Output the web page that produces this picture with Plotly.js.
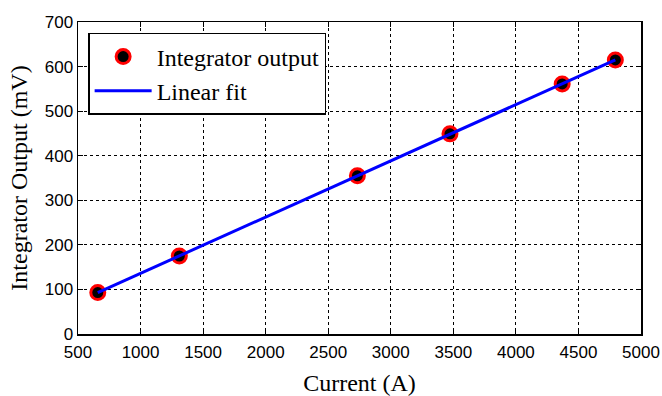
<!DOCTYPE html>
<html><head><meta charset="utf-8">
<script src="https://cdn.plot.ly/plotly-3.0.1.min.js"></script>
<style>body{margin:0;background:#fff}#chart{width:662px;height:396px}</style>
</head><body><div id="chart"></div>
<script>
var currentA = [658, 1310, 2733, 3473, 4370, 4795];
var outputMV = [93, 175, 355, 449, 561, 615];
var fitX = [658, 4795];
var fitY = [93, 615];
var xTicks = [500, 1000, 1500, 2000, 2500, 3000, 3500, 4000, 4500, 5000];
var yTicks = [0, 100, 200, 300, 400, 500, 600, 700];

var serif = 'Liberation Serif, Times New Roman, serif';
var sans = 'Liberation Sans, Arial, sans-serif';
var traces = [
  {x: currentA, y: outputMV, mode: 'markers', type: 'scatter', name: 'Integrator output',
   marker: {color: '#000', size: 14, line: {color: '#ff0000', width: 3}}},
  {x: fitX, y: fitY, mode: 'lines', type: 'scatter', name: 'Linear fit',
   line: {color: '#0000ff', width: 3}}
];
var axisCommon = {
  showline: true, linecolor: '#000', linewidth: 1.5, mirror: 'ticks',
  ticks: 'inside', ticklen: 5, tickcolor: '#000',
  showgrid: true, gridcolor: '#000', griddash: 'dot', gridwidth: 1,
  zeroline: false, tickfont: {family: sans, size: 17, color: '#000'}
};
var layout = {
  width: 662, height: 396,
  margin: {l: 78, r: 21, t: 22, b: 62},
  paper_bgcolor: '#fff', plot_bgcolor: '#fff',
  showlegend: true,
  legend: {x: 0.018, y: 0.965, xanchor: 'left', yanchor: 'top',
    bordercolor: '#000', borderwidth: 1.5, bgcolor: '#fff',
    itemwidth: 57, tracegroupgap: 0,
    font: {family: serif, size: 24, color: '#000'}},
  xaxis: Object.assign({}, axisCommon, {range: [500, 5000], tickvals: xTicks,
    ticktext: xTicks.map(String), ticklabelstandoff: 2,
    title: {text: 'Current (A)', font: {family: serif, size: 24, color: '#000'}, standoff: 16}}),
  yaxis: Object.assign({}, axisCommon, {range: [0, 700], tickvals: yTicks,
    ticktext: yTicks.map(String),
    title: {text: 'Integrator Output (mV)', font: {family: serif, size: 24, color: '#000'}, standoff: 10}})
};
Plotly.newPlot('chart', traces, layout, {displayModeBar: false, staticPlot: true});
</script></body></html>
